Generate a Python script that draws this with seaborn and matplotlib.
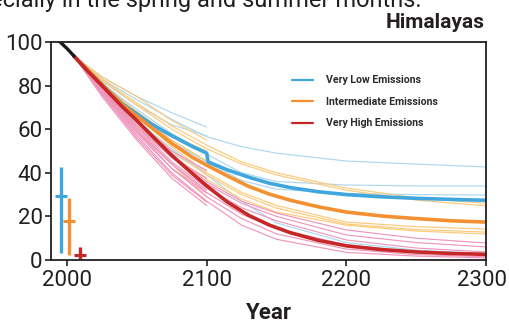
import numpy as np
import pandas as pd
import matplotlib
matplotlib.use('Agg')
import matplotlib.pyplot as plt
import matplotlib.transforms as mtransforms
from matplotlib.lines import Line2D
import seaborn as sns

# 관측(검정) 구간
hist_years = [1995, 2000, 2005]
hist_pct = [100, 97, 93.5]

# 시나리오별 평균선
main_years = [2005, 2015, 2025, 2040, 2050, 2060, 2075, 2090, 2100,
              2115, 2130, 2145, 2160, 2180, 2200, 2225, 2250, 2275, 2300]
very_low_years = [2005, 2015, 2025, 2040, 2050, 2060, 2075, 2090, 2100,
                  2101, 2115, 2130, 2145, 2160, 2180, 2200, 2225, 2250, 2275, 2300]
very_low_mean = [93.5, 87, 80.5, 71.5, 67, 62.5, 57, 52, 49,
                 45, 41.3, 38, 35.2, 33.2, 31.3, 30, 29, 28.3, 27.8, 27.4]
intermediate_mean = [93.5, 87, 80.5, 71, 66, 61, 53.5, 47, 43.5,
                     38.5, 33.8, 30.2, 27.4, 24.4, 22, 20.2, 19, 18, 17.4]
very_high_mean = [93.5, 86.5, 80, 70, 64, 57.5, 48, 39.5, 34,
                  26.5, 20.5, 16, 12.5, 9, 6.5, 4.8, 3.7, 3, 2.6]

# 개별 모델(얇은 선)
member_years = [2005, 2025, 2050, 2075, 2100, 2125, 2150, 2200, 2250, 2300]
nan = np.nan
very_low_members = [
    [93.5, 83, 73.5, 64.5, 56.5, 52, 49, 45.4, 44, 42.7],
    [93.5, 84, 75, 67.5, 61, nan, nan, nan, nan, nan],
    [93.5, 82, 71, 62, 57, nan, nan, nan, nan, nan],
    [93.5, 81, 69, 58, 48.5, 40, 36, 34.4, 34, 34],
    [93.5, 80, 67, 55, 45, 36.5, 32.5, 30.5, 30, 29.8],
    [93.5, 79, 64, 51, 39, 27, 17, 8, 4.5, 3],
    [93.5, 80, 66, 54, 45, nan, nan, nan, nan, nan],
    [93.5, 78, 62, 49, 40, nan, nan, nan, nan, nan],
]
intermediate_members = [
    [93.5, 84, 75, 64, 55, nan, nan, nan, nan, nan],
    [93.5, 83, 72, 61.5, 52.7, 45, 40, 33, 28.5, 26],
    [93.5, 82.5, 71, 60, 51, 44, 39, 32, 27.5, 24.8],
    [93.5, 81, 68, 57, 50, nan, nan, nan, nan, nan],
    [93.5, 80, 66, 52, 40, 31, 25, 17.4, 15.3, 14.2],
    [93.5, 79, 64, 50, 39, 30, 23.8, 16.5, 14, 12.8],
    [93.5, 78.5, 62, 48, 37, 28, 22, 16, 13.3, 11.9],
    [93.5, 78, 60, 44, 29, nan, nan, nan, nan, nan],
    [93.5, 80.5, 67, 55, 45.5, nan, nan, nan, nan, nan],
]
very_high_members = [
    [93.5, 79, 63, 50, 41, nan, nan, nan, nan, nan],
    [93.5, 78, 61, 47, 37.6, nan, nan, nan, nan, nan],
    [93.5, 77, 59, 44, 32, nan, nan, nan, nan, nan],
    [93.5, 76.5, 58, 42, 30.7, nan, nan, nan, nan, nan],
    [93.5, 76, 56, 39, 26.6, nan, nan, nan, nan, nan],
    [93.5, 75, 55, 37.5, 25, nan, nan, nan, nan, nan],
    [93.5, 79, 63, 48, 36, 27, 21.5, 13.8, 10, 7.8],
    [93.5, 78.5, 62, 47, 35, 26, 20, 11.5, 8, 6],
    [93.5, 78, 61, 45, 33, 24, 18, 9.2, 5.5, 3.7],
    [93.5, 77.5, 60, 44, 31, 21, 14.5, 6.9, 3.8, 2.3],
    [93.5, 77, 59, 42, 29, 19, 12, 5, 2.5, 1.5],
    [93.5, 76, 57, 40, 27, 16, 9.5, 3.5, 1.8, 1],
]

# 왼쪽 범위 막대 (x, 하한, 중앙, 상한)
range_x = [1995.7, 2001.4, 2009.3]
range_low = [3.3, 2.3, 0.3]
range_mid = [29.4, 18, 2.3]
range_high = [42.6, 28.4, 6.1]

scenarios = ['Very Low Emissions', 'Intermediate Emissions', 'Very High Emissions']
thick_colors = ['#3fa7dd', '#f39132', '#c62828']
thin_colors = ['#acd8f1', '#fcca7a', '#ef96bd']

# 얇은 선 데이터프레임
rows = []
for sc, members in zip(scenarios, [very_low_members, intermediate_members, very_high_members]):
    for i, vals in enumerate(members):
        for y, v in zip(member_years, vals):
            rows.append({'scenario': sc, 'member': f'{sc}_{i}', 'year': y, 'pct': v})
members_df = pd.DataFrame(rows).dropna()

mean_df = pd.concat([
    pd.DataFrame({'scenario': scenarios[0], 'year': very_low_years, 'pct': very_low_mean}),
    pd.DataFrame({'scenario': scenarios[1], 'year': main_years, 'pct': intermediate_mean}),
    pd.DataFrame({'scenario': scenarios[2], 'year': main_years, 'pct': very_high_mean}),
])

sns.set_theme(style='white')
plt.rcParams['font.family'] = ['Roboto', 'DejaVu Sans']

fig = plt.figure(figsize=(5.09, 3.23), dpi=100)
ax = fig.add_axes([0.1002, 0.195, 0.8546, 0.675])

sns.lineplot(data=members_df, x='year', y='pct', hue='scenario', units='member',
             estimator=None, palette=dict(zip(scenarios, thin_colors)),
             hue_order=scenarios, lw=0.85, legend=False, ax=ax, sort=False)
sns.lineplot(data=mean_df, x='year', y='pct', hue='scenario',
             palette=dict(zip(scenarios, thick_colors)), hue_order=scenarios,
             lw=2.6, legend=False, ax=ax, sort=False)
sns.lineplot(x=hist_years, y=hist_pct, color='#1a1a1a', lw=2.4, ax=ax)

for x, lo, mid, hi, c in zip(range_x, range_low, range_mid, range_high, thick_colors):
    ax.vlines(x, lo, hi, color=c, lw=2.4)
    ax.plot([x], [mid], marker='_', ms=8, mew=2.2, color=c)

ax.set_xlim(1988.5, 2300)
ax.set_ylim(0, 100)
ax.set_xticks([2000, 2100, 2200, 2300])
ax.set_yticks([0, 20, 40, 60, 80, 100])
ax.set_xlabel('Year', fontsize=16, fontweight='bold', color='#231f20', labelpad=8)
ax.set_ylabel('')
ax.tick_params(axis='both', which='major', labelsize=16, colors='#231f20',
               direction='out', length=4, width=1.2, bottom=True, left=True)
ax.tick_params(axis='x', pad=3)
ax.tick_params(axis='y', pad=2)
for s in ax.spines.values():
    s.set_color('#231f20')
    s.set_linewidth(1.3)

# 마지막 눈금 라벨(2300)을 살짝 왼쪽으로
last = ax.get_xticklabels()[-1]
last.set_transform(last.get_transform() + mtransforms.ScaledTranslation(-4 / 100, 0, fig.dpi_scale_trans))

handles = [Line2D([0], [0], color=c, lw=1.6) for c in thick_colors]
leg = ax.legend(handles, scenarios, loc='upper left', bbox_to_anchor=(0.5737, 0.767),
                bbox_transform=fig.transFigure, frameon=False, borderpad=0,
                borderaxespad=0, handlelength=2.0, handletextpad=1.2,
                labelspacing=1.1,
                prop={'size': 7.6, 'weight': 'bold'})
for t in leg.get_texts():
    t.set_color('#2b2b2b')

fig.text(0.953, 0.913, 'Himalayas', ha='right', va='baseline', fontsize=15,
         fontweight='bold', color='#231f20')
fig.text(422 / 509, 1 - 7 / 323, 'especially in the spring and summer months.',
         ha='right', va='baseline', fontsize=17, color='#231f20')

fig.savefig('out.png', dpi=100)
